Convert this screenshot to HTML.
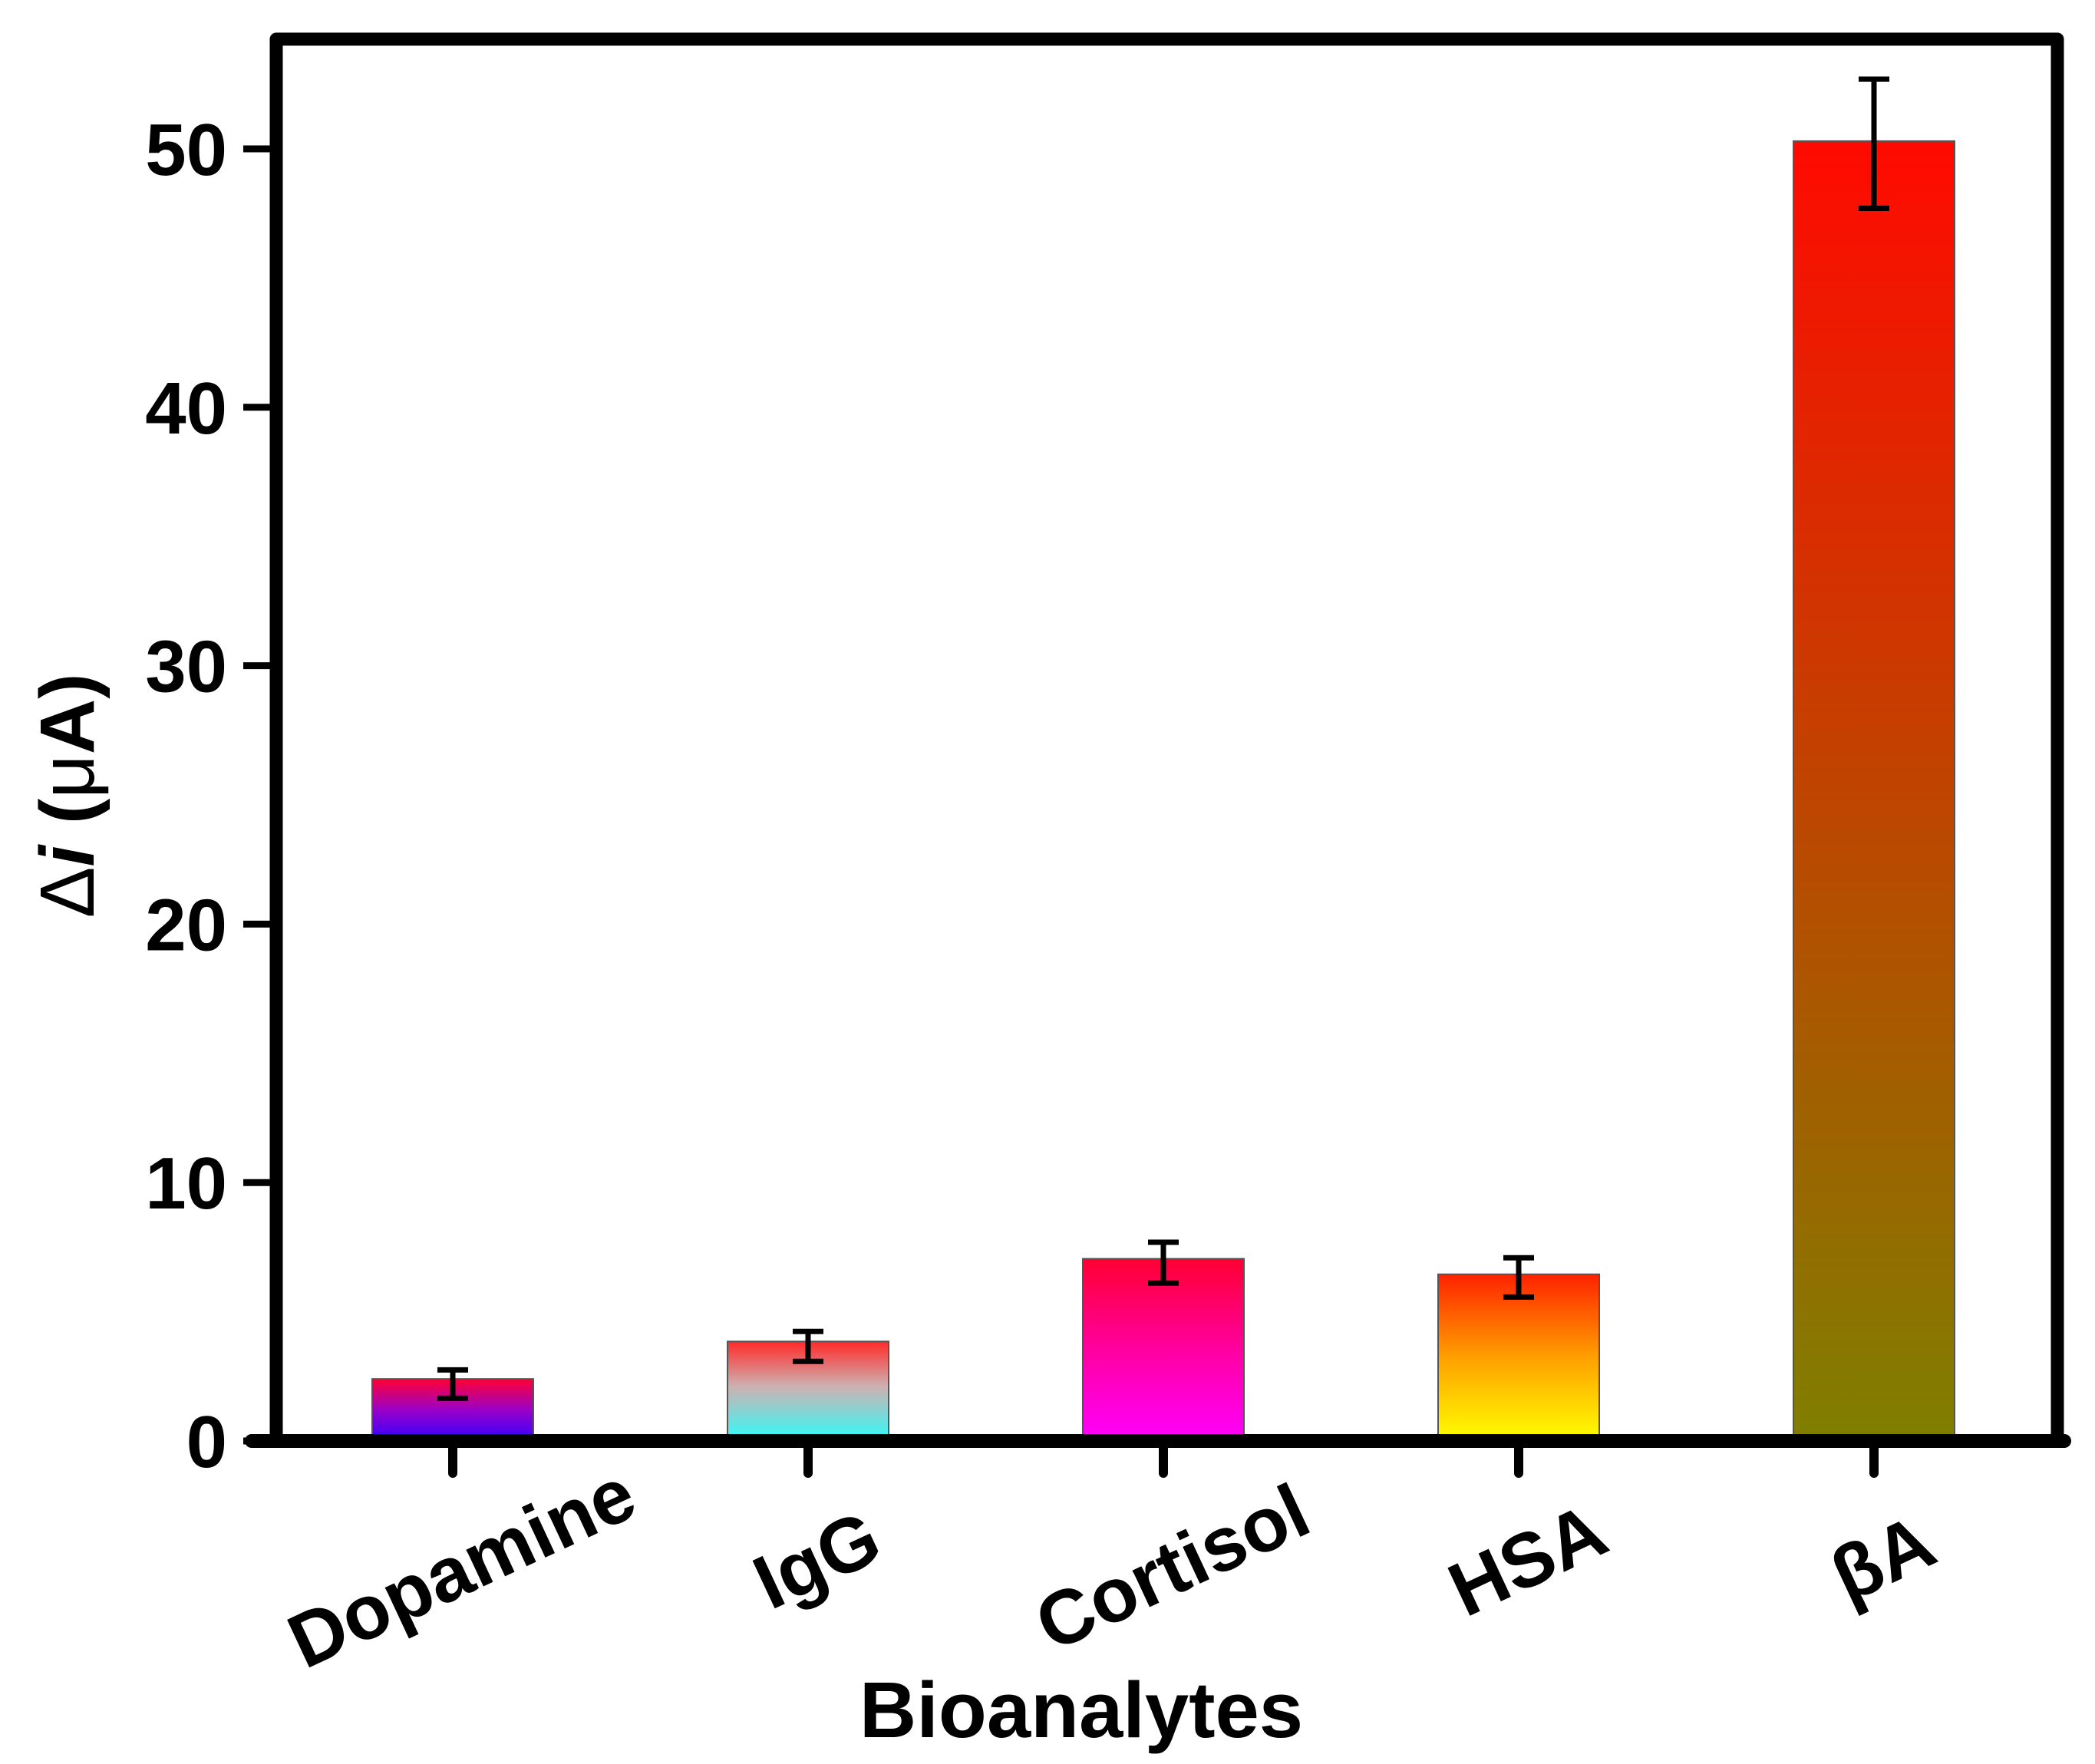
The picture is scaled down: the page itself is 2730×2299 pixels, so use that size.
<!DOCTYPE html>
<html><head><meta charset="utf-8"><style>
html,body{margin:0;padding:0;background:#fff}
svg{display:block}
text{font-family:"Liberation Sans",Arial,sans-serif;font-weight:bold;fill:#000}
</style></head><body>
<svg id="chart" width="2730" height="2299" viewBox="0 0 2730 2299" xmlns="http://www.w3.org/2000/svg">
<defs>
<linearGradient id="g0" x1="0" y1="0" x2="0" y2="1"><stop offset="0" stop-color="#ff0033"/><stop offset="0.5" stop-color="#9a00c8"/><stop offset="1" stop-color="#3300ff"/></linearGradient>
<linearGradient id="g1" x1="0" y1="0" x2="0" y2="1"><stop offset="0" stop-color="#ff2a2a"/><stop offset="0.45" stop-color="#cfb0b0"/><stop offset="1" stop-color="#2ffcfc"/></linearGradient>
<linearGradient id="g2" x1="0" y1="0" x2="0" y2="1"><stop offset="0" stop-color="#ff0033"/><stop offset="0.5" stop-color="#ff00a0"/><stop offset="1" stop-color="#ff00ff"/></linearGradient>
<linearGradient id="g3" x1="0" y1="0" x2="0" y2="1"><stop offset="0" stop-color="#ff2200"/><stop offset="0.5" stop-color="#ffa000"/><stop offset="1" stop-color="#ffff00"/></linearGradient>
<linearGradient id="g4" x1="0" y1="0" x2="0" y2="1"><stop offset="0" stop-color="#ff0a00"/><stop offset="1" stop-color="#7f7f00"/></linearGradient>
</defs>
<g id="bars"></g>
<g id="errs"></g>
<g id="axes"></g>
<text transform="translate(122,1037) rotate(-90)" text-anchor="middle" font-size="100"><tspan font-weight="normal">Δ</tspan><tspan font-style="italic">i</tspan> (<tspan font-weight="normal">μ</tspan>A)</text>
<text x="1409" y="2264" text-anchor="middle" font-size="103">Bioanalytes</text>
</svg>
<script>
const categories = ["Dopamine","IgG","Cortisol","HSA","βA"];
const values = [2.4, 3.85, 7.05, 6.45, 50.3];
const errors = [0.55, 0.58, 0.79, 0.76, 2.5];
const errCenters = [2.2, 3.66, 6.9, 6.33, 50.2];
const yTicks = [0,10,20,30,40,50];
const NS = "http://www.w3.org/2000/svg";
const X0 = 590, DX = 463, BW = 210;
const Y0 = 1878, PXU = 33.68;
function xs(i){ return X0 + i*DX; }
function ys(v){ return Y0 - v*PXU; }
function mk(tag, attrs, parent){
  const e = document.createElementNS(NS, tag);
  for (const k in attrs) e.setAttribute(k, attrs[k]);
  parent.appendChild(e); return e;
}
const bars = document.getElementById('bars'), errs = document.getElementById('errs'), axes = document.getElementById('axes');
categories.forEach((c,i)=>{
  const r = mk('rect',{x:xs(i)-BW/2,y:ys(values[i]),width:BW,height:Y0-ys(values[i]),fill:'url(#g'+i+')',stroke:'#555','stroke-width':2},bars);
  
  
  const t = ys(errCenters[i]+errors[i]), b = ys(errCenters[i]-errors[i]);
  const g = mk('g',{stroke:'#000','stroke-width':7},errs);
  
  
  mk('line',{x1:xs(i),x2:xs(i),y1:t,y2:b},g);
  mk('line',{x1:xs(i)-20,x2:xs(i)+20,y1:t,y2:t},g);
  mk('line',{x1:xs(i)-20,x2:xs(i)+20,y1:b,y2:b},g);
  // x tick
  const tk = mk('line',{x1:xs(i),x2:xs(i),y1:Y0,y2:1920,stroke:'#000','stroke-width':12,'stroke-linecap':'round'},axes);
  
  
  const lx = xs(i)+15, ly = 2042 + (c.length-4)*2;
  const tl = mk('text',{x:lx,y:ly,'text-anchor':'middle','dominant-baseline':'middle','font-size':100,transform:'rotate(-25 '+lx+' '+ly+')'},axes);
  tl.textContent = c;
  
  
});
yTicks.forEach(v=>{
  const l = mk('line',{x1:317,x2:360,y1:ys(v),y2:ys(v),stroke:'#000','stroke-width':9},axes);
  
  
  const t = mk('text',{x:296,y:ys(v)+34,'text-anchor':'end','font-size':96},axes);
  t.textContent = v;
  
  
});
const frame = mk('path',{d:'M360 1878 L360 51 L2681 51 L2681 1878',fill:'none',stroke:'#000','stroke-width':17,'stroke-linejoin':'round'},axes);


const xa = mk('line',{x1:328,x2:2690,y1:Y0,y2:Y0,stroke:'#000','stroke-width':18,'stroke-linecap':'round'},axes);


</script>
</body></html>
